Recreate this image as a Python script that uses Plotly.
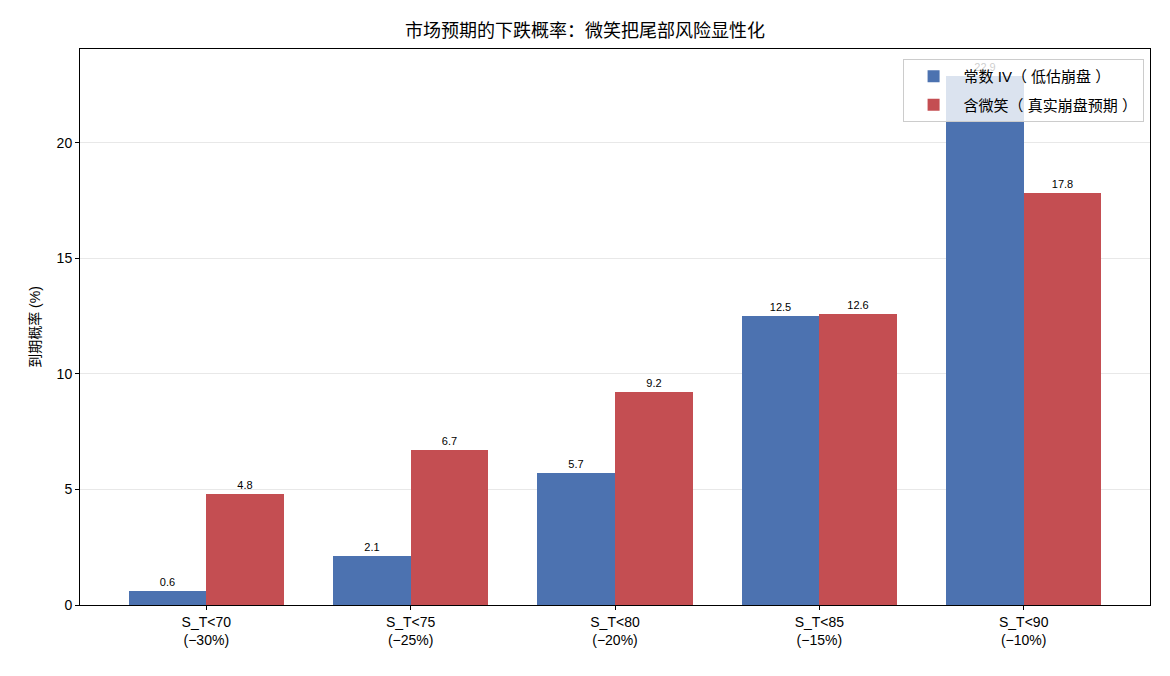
import plotly.graph_objects as go

categories = ["S_T<70<br>(−30%)", "S_T<75<br>(−25%)", "S_T<80<br>(−20%)", "S_T<85<br>(−15%)", "S_T<90<br>(−10%)"]
const_iv = [0.6, 2.1, 5.7, 12.5, 22.9]
smile = [4.8, 6.7, 9.2, 12.6, 17.8]
series_names = ["常数 IV（ 低估崩盘 ）", "含微笑（ 真实崩盘预期 ）"]
colors = ["#4C72B0", "#C44E52"]

x = list(range(len(categories)))
w = 0.38
font = "Liberation Sans, Arial, Noto Sans CJK SC, sans-serif"

fig = go.Figure()
for i, (vals, name, col, off) in enumerate([(const_iv, series_names[0], colors[0], -w),
                                             (smile, series_names[1], colors[1], 0.0)]):
    fig.add_trace(go.Bar(
        x=x, y=vals, name=name, width=w, offset=off, legendgroup=f"g{i}",
        marker=dict(color=col, line=dict(width=0)),
        text=[f"{v:.1f}" for v in vals], textposition="outside",
        textfont=dict(size=11, color="black"), cliponaxis=False,
        constraintext="none",
    ))

fig.update_layout(
    width=1170, height=676,
    margin=dict(l=80, r=20, t=49, b=71),
    paper_bgcolor="white", plot_bgcolor="white",
    font=dict(family=font, size=14, color="black"),
    title=dict(text="市场预期的下跌概率：微笑把尾部风险显性化", x=0.5, xanchor="center",
               y=1 - 31 / 676, yanchor="middle", font=dict(size=18)),
    showlegend=True,
    legend=dict(x=0.994, y=0.982, xanchor="right", yanchor="top",
                bgcolor="rgba(255,255,255,0.8)", bordercolor="#cccccc", borderwidth=1,
                font=dict(size=15), tracegroupgap=6, itemwidth=50),
    bargap=0,
)
fig.update_xaxes(
    range=[-0.618, 4.618], tickmode="array", tickvals=x, ticktext=categories,
    showline=True, linecolor="black", linewidth=1, mirror=True,
    ticks="outside", ticklen=4, tickcolor="black", showgrid=False, zeroline=False,
    tickfont=dict(size=14),
)
fig.update_yaxes(
    range=[0, 24.05], tickvals=[0, 5, 10, 15, 20],
    showline=True, linecolor="black", linewidth=1, mirror=True,
    ticks="outside", ticklen=4, tickcolor="black",
    showgrid=True, gridcolor="#e8e8e8", gridwidth=1, zeroline=False,
    title=dict(text="到期概率 (%)", font=dict(size=14), standoff=12),
    tickfont=dict(size=14),
)
fig.write_html("out.html")
